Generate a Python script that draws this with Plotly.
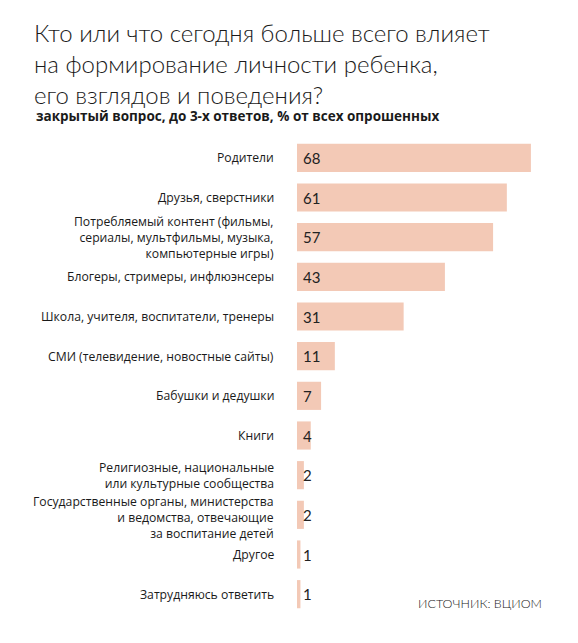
import plotly.graph_objects as go

categories = [
    "Родители",
    "Друзья, сверстники",
    "Потребляемый контент (фильмы,<br>сериалы, мультфильмы, музыка,<br>компьютерные игры)",
    "Блогеры, стримеры, инфлюэнсеры",
    "Школа, учителя, воспитатели, тренеры",
    "СМИ (телевидение, новостные сайты)",
    "Бабушки и дедушки",
    "Книги",
    "Религиозные, национальные<br>или культурные сообщества",
    "Государственные органы, министерства<br>и ведомства, отвечающие<br>за воспитание детей",
    "Другое",
    "Затрудняюсь ответить",
]
values = [68, 61, 57, 43, 31, 11, 7, 4, 2, 2, 1, 1]

title_text = ("Кто или что сегодня больше всего влияет<br>"
              "на формирование личности ребенка,<br>"
              "его взглядов и поведения?")
subtitle_text = "закрытый вопрос, до 3-х ответов, % от всех опрошенных"
source_text = "ИСТОЧНИК: ВЦИОМ"

BAR_COLOR = "#F3C9B6"
TEXT_COLOR = "#1a1a1a"

W, H = 578, 643
L, R, T, B = 297, 40, 138, 29
plot_w = W - L - R
plot_h = H - T - B

fig = go.Figure()
fig.add_trace(go.Bar(
    x=values, y=categories, orientation="h",
    marker=dict(color=BAR_COLOR, line=dict(width=0)),
    hoverinfo="skip",
))

annotations = []
for i, (c, v) in enumerate(zip(categories, values)):
    annotations.append(dict(
        x=0, y=c, xref="x", yref="y", text=str(v), showarrow=False,
        xanchor="left", yanchor="middle", xshift=4,
        font=dict(family="Lato, sans-serif", size=15, color="#222222"),
    ))
    # the long 3-line label sits slightly low in the original layout
    ys = -3 if (c.count("<br>") == 2 and i > 2) else 0
    annotations.append(dict(
        x=0, y=c, xref="x", yref="y", text=c, showarrow=False,
        xanchor="right", yanchor="middle", xshift=-21, yshift=ys, align="right",
        font=dict(family="Open Sans, sans-serif", size=12.2, color=TEXT_COLOR),
    ))

annotations.append(dict(
    x=(34 - L) / plot_w, y=(H - B - 116) / plot_h, xref="paper", yref="paper",
    text="<b>" + subtitle_text + "</b>", showarrow=False,
    xanchor="left", yanchor="middle",
    font=dict(family="Open Sans, sans-serif", size=13.5, color=TEXT_COLOR),
))
annotations.append(dict(
    x=(416 - L) / plot_w, y=(H - B - 603) / plot_h, xref="paper", yref="paper",
    text=source_text, showarrow=False,
    xanchor="left", yanchor="middle",
    font=dict(family="Lato, sans-serif", size=12.5, color=TEXT_COLOR, weight=300),
))

fig.update_layout(
    width=W, height=H,
    margin=dict(l=L, r=R, t=T, b=B, pad=0),
    paper_bgcolor="white", plot_bgcolor="white",
    showlegend=False,
    bargap=0.29,
    title=dict(
        text=title_text, xref="container", yref="container",
        x=34 / W, xanchor="left", y=1 - 42 / H, yanchor="top",
        font=dict(family="Lato, sans-serif", size=24, color=TEXT_COLOR, weight=300),
    ),
    xaxis=dict(range=[0, plot_w / 3.44], visible=False, fixedrange=True),
    yaxis=dict(
        autorange="reversed", showgrid=False, zeroline=False, showline=False,
        ticks="", showticklabels=False, fixedrange=True,
    ),
    annotations=annotations,
)

fig.write_html("out.html", config={"displayModeBar": False})
